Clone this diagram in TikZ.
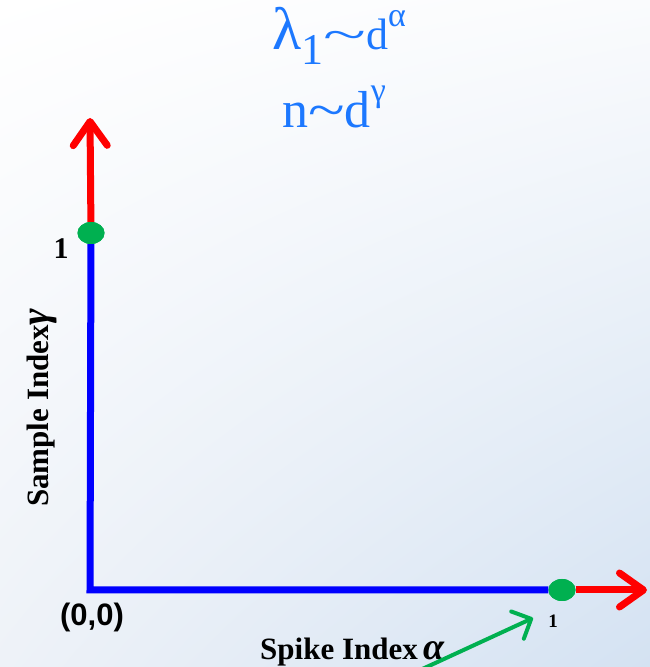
\documentclass[tikz,border=0pt]{standalone}
\usepackage{graphicx}
\usepackage{fontspec}
\setmainfont{Liberation Serif}
\newfontfamily\sansbold{Liberation Sans}
\usetikzlibrary{arrows.meta,shapes.geometric,shadings}
\definecolor{axisblue}{RGB}{0,0,255}
\definecolor{axisred}{RGB}{255,0,0}
\definecolor{dotgreen}{RGB}{0,176,80}
\definecolor{titleblue}{RGB}{28,120,255}
\definecolor{bgblue}{RGB}{212,226,242}
\definecolor{bgmid}{RGB}{238,242,248}
\newcommand{\fs}[1]{\fontsize{#1}{#1}\selectfont}
\tikzset{
  axisline/.style={axisblue,line width=7pt,line join=miter},
  axisarrow/.style={axisred,line width=7pt,-{Straight Barb[length=24pt,width=34pt,round]}},
  pointer/.style={dotgreen,line width=4pt,-{Straight Barb[length=15pt,width=30pt,round]}},
  enddot/.style={ellipse,fill=dotgreen,inner sep=0pt,minimum width=27pt,minimum height=22pt},
  titletext/.style={titleblue,inner sep=0pt,anchor=base west},
  axislabel/.style={inner sep=0pt,anchor=base west,font=\bfseries},
}
\begin{document}
\begin{tikzpicture}[x=1pt,y=1pt]
\shade[shading=bilinear interpolation,upper left=white,upper right=white!70!bgmid,lower left=bgmid,lower right=bgblue] (0,0) rectangle (650,667);
\useasboundingbox (0,0) rectangle (650,667);
% title
\node[titletext,font=\fs{44}] (lambda) at (272,617)
  {{\fs{60}λ}\raisebox{-15pt}{\fs{44}1}\scalebox{1.8}[1]{\textasciitilde}d\raisebox{23pt}{\fs{34}α}};
\node[titletext,font=\fs{52}] (samples) at (282,539)
  {n\scalebox{1.3}[1]{\textasciitilde}d\raisebox{26pt}{\fs{34}γ}};
% axes
\coordinate (origin) at (90,77);
\coordinate (ytip) at (90,549);
\coordinate (xtip) at (647,77);
\node[enddot] (ydot) at (91,434) {};
\node[enddot] (xdot) at (562,77) {};
\draw[axisline] (ydot) -- (origin) -- (xdot);
\draw[axisarrow] (ydot) -- (ytip);
\draw[axisarrow] (xdot) -- (xtip);
\node[enddot] at (ydot) {};
\node[enddot] at (xdot) {};
% labels
\node[font=\fs{30}\bfseries] (yone) at (61,418) {1};
\node[font=\fs{19}\bfseries] (xone) at (553,46) {1};
\node[font=\fs{31}\sansbold\bfseries] (zero) at (92,50) {(0,0)};
\node[axislabel,font=\fs{31}\bfseries,rotate=90] (sampleidx) at (48,160) {Sample Index{\fs{40}\itshape γ}};
\node[axislabel,font=\fs{31}\bfseries] (spikeidx) at (260,7) {Spike Index\,{\fs{38}\itshape α}};
\coordinate (spikefrom) at (418,-4);
\coordinate (spiketip) at (533,49);
\draw[pointer] (spikefrom) -- (spiketip);
\end{tikzpicture}
\end{document}
